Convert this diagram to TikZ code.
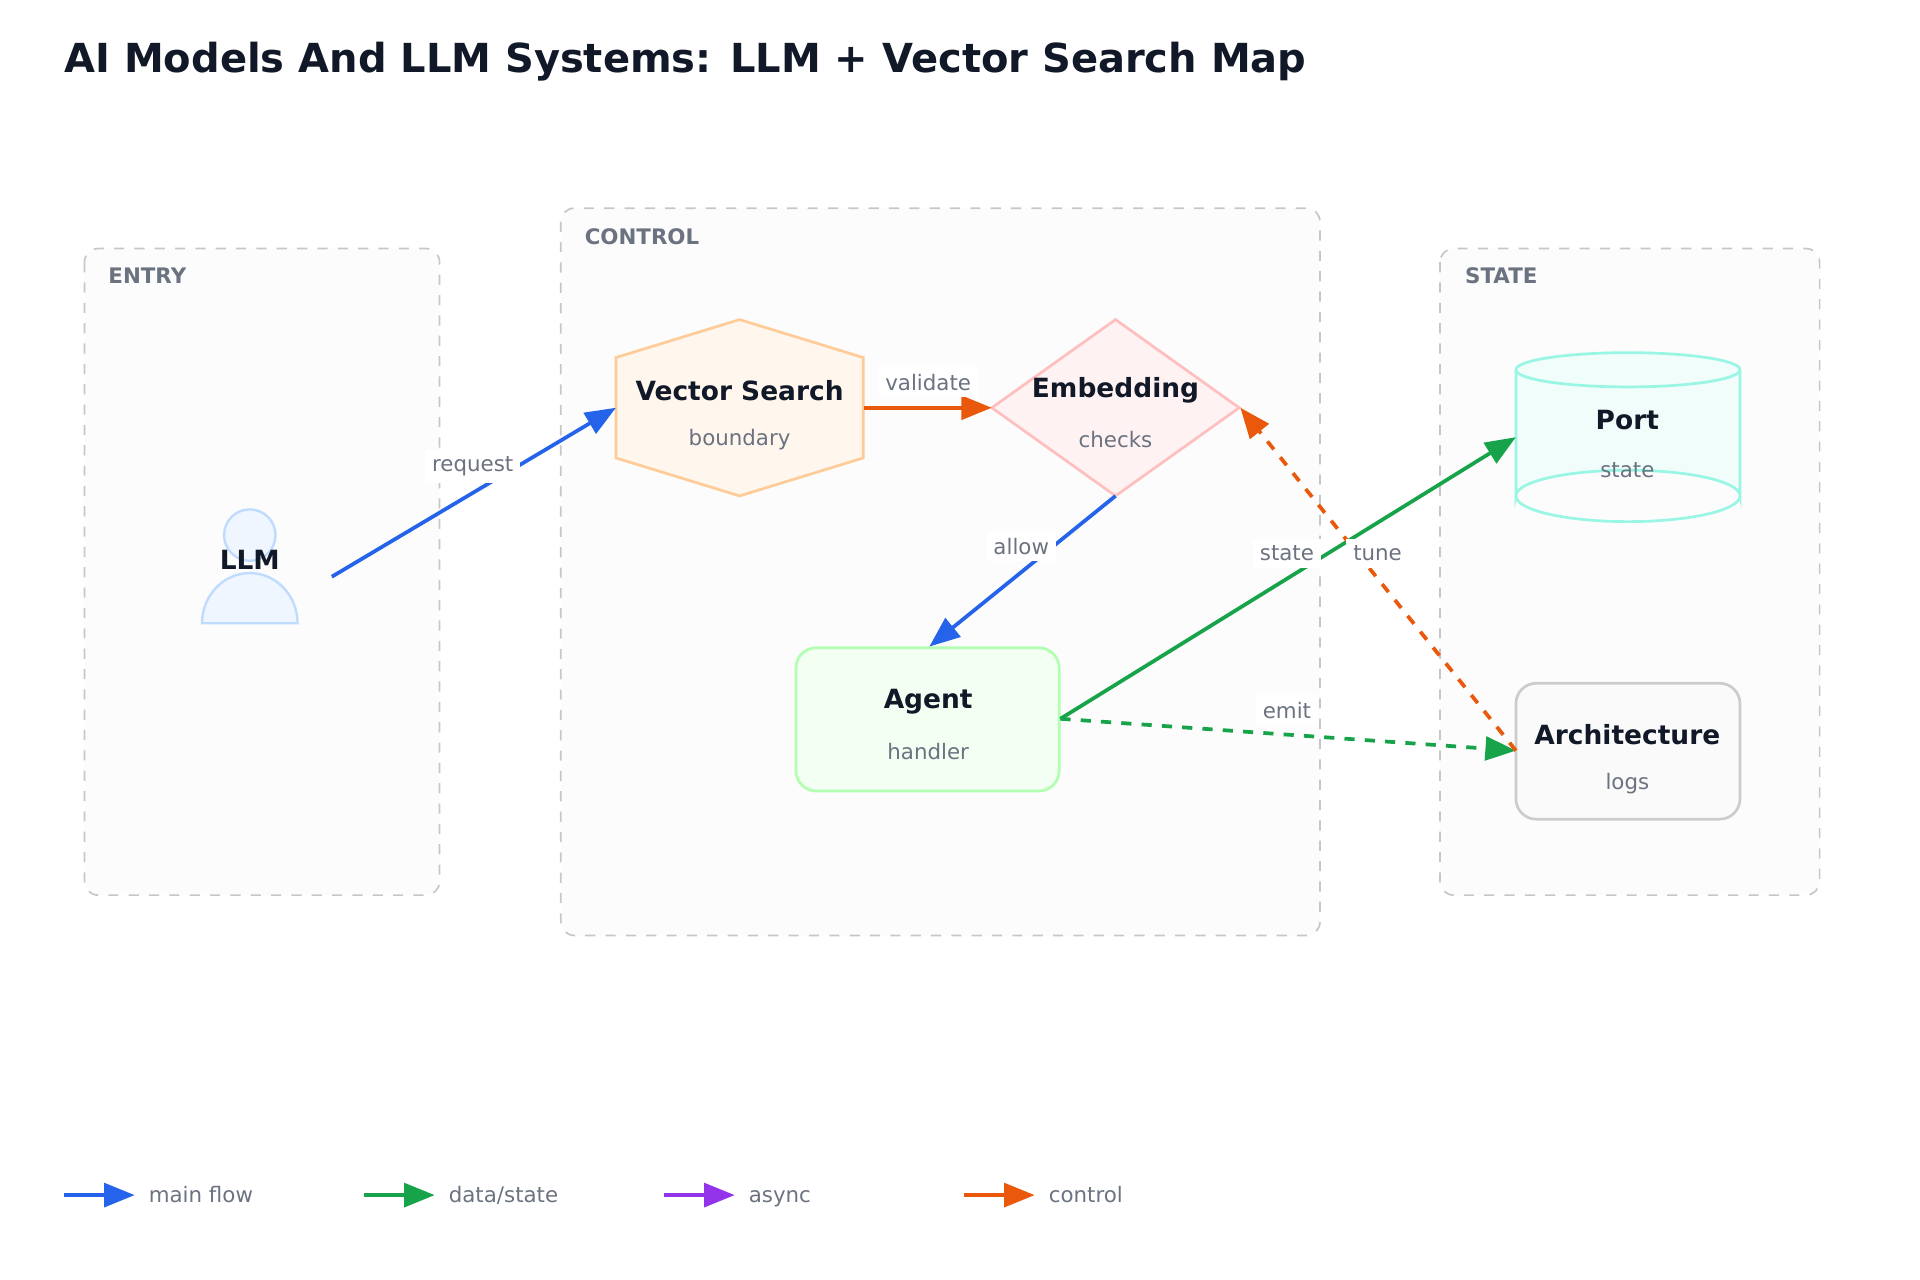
\documentclass[tikz,border=0pt]{standalone}
\usepackage{fontspec}
\setmainfont{DejaVu Sans}
\usetikzlibrary{arrows.meta,shapes.geometric}
\definecolor{ink}{HTML}{111827}
\definecolor{mut}{HTML}{6B7280}
\definecolor{sub}{HTML}{6B7280}
\definecolor{blu}{HTML}{2563EB}
\definecolor{grn}{HTML}{16A34A}
\definecolor{pur}{HTML}{9333EA}
\definecolor{org}{HTML}{EA580C}
\definecolor{actS}{HTML}{BFDBFE}
\definecolor{actF}{HTML}{EFF6FF}
\definecolor{cylS}{HTML}{99F6E4}
\definecolor{cylF}{HTML}{F0FDFA}
\definecolor{grpF}{HTML}{FBFCFB}
\begin{document}
\begin{tikzpicture}[x=0.0127cm,y=-0.0127cm,
  grp/.style={draw=black!22,dashed,line width=0.5pt,rounded corners=4pt,fill=grpF},
  glab/.style={anchor=west,inner sep=0pt,text=mut,font=\bfseries\fontsize{6.3}{7}\selectfont},
  ttl/.style={text=ink,font=\bfseries\fontsize{7.8}{9}\selectfont},
  st/.style={text=sub,font=\fontsize{6.3}{7}\selectfont},
  elab/.style={fill=white,text=sub,font=\fontsize{6.3}{7}\selectfont,inner sep=2pt},
  arr/.style={line width=1.1pt,-{Triangle[length=9pt,width=7pt]}},
]
\useasboundingbox (0,0) rectangle (1568,1045);
\node[anchor=west,inner sep=0pt,text=ink,font=\bfseries\fontsize{11.8}{14}\selectfont] (title) at (52,50) {AI Models And LLM Systems: LLM + Vector Search Map};
% groups
\draw[grp] (69,203) rectangle (359,731);
\node[glab] (gE) at (88,225) {ENTRY};
\draw[grp] (458,170) rectangle (1078,764);
\node[glab] (gC) at (477,193) {CONTROL};
\draw[grp] (1176,203) rectangle (1486,731);
\node[glab] (gS) at (1196,225) {STATE};
% LLM actor
\draw[draw=actS,fill=actF,line width=0.7pt] (165,509) arc[start angle=180,end angle=360,x radius=39,y radius=41] -- cycle;
\draw[draw=actS,fill=actF,line width=0.7pt] (204,437) circle[radius=21];
\node[ttl] (llm) at (204,457) {LLM};
\coordinate (llmR) at (271,471);
% Vector Search
\draw[draw=orange!40,fill=orange!7,line width=0.8pt] (503,292)--(604,261)--(705,292)--(705,374)--(604,405)--(503,374)--cycle;
\node[ttl] (vs) at (604,319) {Vector Search};
\node[st] (vss) at (604,359) {boundary};
\coordinate (vsL) at (503,333); \coordinate (vsR) at (706,333);
% Embedding
\draw[draw=red!25,fill=red!5,line width=0.8pt] (911,261)--(1012,333)--(911,405)--(810,333)--cycle;
\node[ttl] (emb) at (911,319) {Embedding};
\node[st] (embs) at (911,359) {checks};
\coordinate (embL) at (810,333); \coordinate (embR) at (1013,333); \coordinate (embB) at (911,405);
% Agent
\draw[draw=green!30,fill=green!5,line width=0.8pt,rounded corners=6pt] (650,529) rectangle (865,646);
\node[ttl] (ag) at (758,573) {Agent};
\node[st] (ags) at (758,614) {handler};
\coordinate (agT) at (759,528); \coordinate (agR) at (866,587);
% Port cylinder
\draw[draw=cylS,fill=cylF,line width=0.8pt] (1238,302) -- (1238,405) arc[start angle=180,end angle=360,x radius=91.5,y radius=21] -- (1421,302);
\draw[draw=cylS,fill=cylF,line width=0.8pt] (1329.5,302) ellipse[x radius=91.5,y radius=14];
\draw[draw=cylS,line width=0.8pt] (1238,405) arc[start angle=180,end angle=0,x radius=91.5,y radius=21];
\node[ttl] (port) at (1329,343) {Port};
\node[st] (ports) at (1329,384) {state};
\coordinate (portL) at (1238,357);
% Architecture
\draw[draw=black!20,fill=black!2,line width=0.8pt,rounded corners=6pt] (1238,558) rectangle (1421,669);
\node[ttl] (arch) at (1329,600) {Architecture};
\node[st] (archs) at (1329,640) {logs};
\coordinate (archL) at (1238,613);
% edges
\draw[arr,blu] (llmR) -- (vsL);
\node[elab] (l1) at (386,381) {request};
\draw[arr,org] (vsR) -- (embL);
\node[elab] (l2) at (758,312) {validate};
\draw[arr,blu] (embB) -- (agT);
\node[elab] (l3) at (834,446) {allow};
\draw[arr,grn] (agR) -- (portL);
\draw[arr,grn,dashed] (agR) -- (archL);
\draw[arr,org,dashed] (archL) -- (embR);
\node[elab] (l4) at (1051,452) {state};
\node[elab] (l5) at (1051,580) {emit};
\node[elab] (l6) at (1125,452) {tune};
% legend
\foreach \x/\c/\t [count=\i] in {52/blu/main flow,297/grn/data\slash state,542/pur/async,787/org/control}{
  \coordinate (la\i) at (\x,976);
  \coordinate (lb\i) at (\x+58,976);
  \draw[arr,\c] (la\i) -- (lb\i);
  \node[st,anchor=base west,inner sep=0pt] (lt\i) at (\x+69,982) {\t};
}
\end{tikzpicture}
\end{document}
